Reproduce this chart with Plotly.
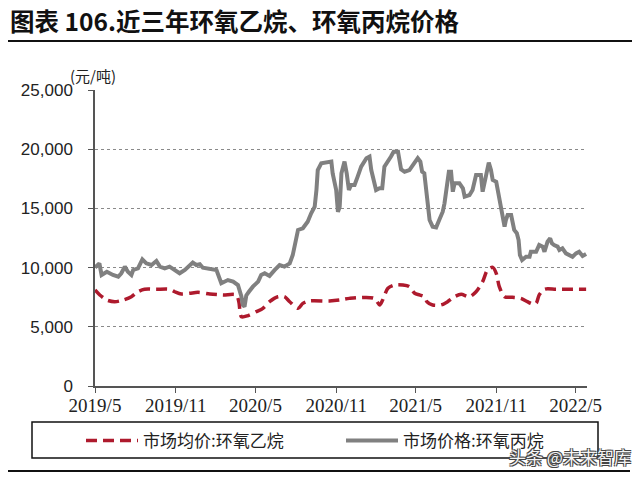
import plotly.graph_objects as go

# 市场价格:环氧丙烷 (PO) - gray
po_dates = [
    "2019-05-01", "2019-05-11", "2019-05-16", "2019-05-28", "2019-06-11", "2019-06-23", "2019-06-30",
    "2019-07-08", "2019-07-15", "2019-07-23", "2019-07-27", "2019-08-07", "2019-08-17", "2019-08-26",
    "2019-09-07", "2019-09-18", "2019-09-26", "2019-10-07", "2019-10-18", "2019-10-30", "2019-11-10",
    "2019-11-22", "2019-12-03", "2019-12-10", "2019-12-18", "2019-12-26", "2020-01-02", "2020-01-18",
    "2020-02-02", "2020-02-13", "2020-02-21", "2020-02-28", "2020-03-11", "2020-03-22", "2020-03-30",
    "2020-04-02", "2020-04-06", "2020-04-10", "2020-04-16", "2020-04-25", "2020-05-07", "2020-05-14",
    "2020-05-22", "2020-06-02", "2020-06-14", "2020-06-25", "2020-07-06", "2020-07-18", "2020-07-25",
    "2020-08-02", "2020-08-06", "2020-08-17", "2020-08-28", "2020-09-05", "2020-09-13", "2020-09-17",
    "2020-09-20", "2020-09-28", "2020-10-13", "2020-10-21", "2020-10-24", "2020-11-01", "2020-11-05",
    "2020-11-09", "2020-11-13", "2020-11-20", "2020-11-25", "2020-11-30", "2020-12-05", "2020-12-13",
    "2020-12-20", "2020-12-28", "2021-01-09", "2021-01-16", "2021-01-20", "2021-01-27", "2021-01-31",
    "2021-02-08", "2021-02-14", "2021-02-19", "2021-02-27", "2021-03-06", "2021-03-12", "2021-03-22",
    "2021-03-29", "2021-04-06", "2021-04-17", "2021-04-29", "2021-05-06", "2021-05-12", "2021-05-16",
    "2021-05-21", "2021-05-25", "2021-05-29", "2021-06-02", "2021-06-09", "2021-06-17", "2021-06-24",
    "2021-07-02", "2021-07-06", "2021-07-10", "2021-07-16", "2021-07-21", "2021-07-25", "2021-07-29",
    "2021-08-09", "2021-08-17", "2021-08-21", "2021-09-01", "2021-09-08", "2021-09-16", "2021-09-27",
    "2021-10-01", "2021-10-05", "2021-10-10", "2021-10-15", "2021-10-20", "2021-10-24", "2021-11-01",
    "2021-11-08", "2021-11-12", "2021-11-16", "2021-11-20", "2021-11-23", "2021-11-27", "2021-12-05",
    "2021-12-08", "2021-12-12", "2021-12-18", "2021-12-22", "2021-12-25", "2021-12-30", "2022-01-08",
    "2022-01-16", "2022-01-19", "2022-01-31", "2022-02-07", "2022-02-15", "2022-02-19", "2022-02-26",
    "2022-03-04", "2022-03-08", "2022-03-13", "2022-03-21", "2022-03-25", "2022-04-01", "2022-04-09",
    "2022-04-17", "2022-04-24", "2022-05-02", "2022-05-09", "2022-05-17", "2022-05-25",
]
po_values = [
    10000, 10360, 9380, 9650, 9380, 9230, 9520,
    10080, 9650, 9380, 9800, 9940, 10700, 10360,
    10220, 10560, 10080, 9940, 10080, 9800, 9520,
    9800, 10140, 10420, 10220, 10280, 9990, 9860,
    9800, 8680, 8810, 8950, 8810, 8530, 7540,
    6840, 6700, 7650, 7960, 8390, 8810, 9380,
    9520, 9300, 9800, 10220, 10080, 10360, 11060,
    12330, 13180, 13320, 13880, 14590, 15140, 16550,
    18240, 18810, 18950, 18950, 17960, 16550, 14720,
    15140, 17960, 18950, 17960, 16550, 16980, 16980,
    17680, 18530, 19240, 19380, 18240, 17250, 16550,
    16700, 16700, 18530, 18950, 19380, 19790, 19790,
    18300, 18100, 18240, 18810, 19240, 18950, 18100,
    17960, 16550, 15140, 14020, 13460, 13400, 14020,
    14720, 15430, 16700, 18100, 18100, 16410, 17120,
    17120, 16700, 15990, 16130, 16550, 17820, 17820,
    16410, 17120, 18240, 18870, 18240, 17400, 17250,
    15990, 15140, 14300, 13460, 14020, 14440, 14440,
    14020, 13180, 12900, 12330, 11060, 10640, 10920,
    10920, 11340, 11340, 11910, 11770, 11340, 12190,
    12470, 12050, 11910, 11770, 11480, 11630, 11200,
    11060, 10920, 11200, 11340, 10980, 11150,
]

# 市场均价:环氧乙烷 (EO) - red dashed
eo_dates = [
    "2019-05-01", "2019-05-12", "2019-05-28", "2019-06-15", "2019-07-04", "2019-07-23", "2019-08-07",
    "2019-08-22", "2019-09-18", "2019-10-18", "2019-10-30", "2019-11-14", "2019-12-03", "2019-12-22",
    "2020-01-18", "2020-02-17", "2020-03-18", "2020-03-24", "2020-03-30", "2020-04-14", "2020-05-03",
    "2020-05-18", "2020-06-02", "2020-06-21", "2020-07-06", "2020-07-18", "2020-08-06", "2020-08-17",
    "2020-09-01", "2020-10-17", "2020-11-09", "2020-12-01", "2021-01-27", "2021-02-08", "2021-02-15",
    "2021-02-27", "2021-03-14", "2021-04-02", "2021-04-17", "2021-04-29", "2021-05-10", "2021-05-21",
    "2021-05-27", "2021-06-09", "2021-06-28", "2021-07-13", "2021-07-29", "2021-08-13", "2021-09-01",
    "2021-09-16", "2021-10-01", "2021-10-12", "2021-10-24", "2021-11-01", "2021-11-08", "2021-11-20",
    "2021-12-08", "2021-12-27", "2022-01-11", "2022-01-23", "2022-01-31", "2022-02-07", "2022-02-19",
    "2022-03-17", "2022-04-17", "2022-05-25",
]
eo_values = [
    8110, 7690, 7260, 7120, 7260, 7540, 7960,
    8170, 8170, 8170, 7960, 7770, 7830, 7910,
    7770, 7690, 7690, 7120, 5850, 5950, 6280,
    6560, 7120, 7540, 7540, 7120, 6560, 6980,
    7180, 7180, 7260, 7400, 7400, 6840, 7260,
    8250, 8530, 8530, 8390, 7830, 7690, 7540,
    7120, 6840, 6840, 7120, 7540, 7740, 7540,
    7960, 8810, 9800, 10020, 9520, 8390, 7540,
    7490, 7400, 7120, 6930, 6980, 7690, 8170,
    8170, 8170, 8170,
]

tick_dates = ["2019-05-01", "2019-11-01", "2020-05-01", "2020-11-01", "2021-05-01", "2021-11-01", "2022-05-01"]
tick_labels = ["2019/5", "2019/11", "2020/5", "2020/11", "2021/5", "2021/11", "2022/5"]
y_ticks = [0, 5000, 10000, 15000, 20000, 25000]

RED = "#AE1A2D"
GRAY = "#808080"
CJK = "Noto Sans CJK SC"

fig = go.Figure()
fig.add_trace(go.Scatter(
    x=eo_dates, y=eo_values, mode="lines", name="市场均价:环氧乙烷", legend="legend",
    line=dict(color=RED, width=3.5, dash="11px,6px", shape="spline", smoothing=0.8),
))
fig.add_trace(go.Scatter(
    x=po_dates, y=po_values, mode="lines", name="市场价格:环氧丙烷", legend="legend2",
    line=dict(color=GRAY, width=4),
))

L, R, T, B = 95, 53, 90, 91
W, H = 640, 477
pw, ph = W - L - R, H - T - B


def px(xp):
    return (xp - L) / pw


def py(yp):
    return (H - B - yp) / ph


legend_common = dict(
    orientation="h", yanchor="middle", xanchor="left", itemwidth=52,
    font=dict(family=CJK, size=17, color="#222"),
    bgcolor="rgba(0,0,0,0)", borderwidth=0,
)

fig.update_layout(
    width=W, height=H, autosize=False,
    margin=dict(l=L, r=R, t=T, b=B, pad=0),
    paper_bgcolor="white", plot_bgcolor="white",
    showlegend=True,
    legend=dict(x=px(81), y=py(441), **legend_common),
    legend2=dict(x=px(341), y=py(441), **legend_common),
    title=dict(
        text="<b>图表 106.近三年环氧乙烷、环氧丙烷价格</b>",
        x=10 / W, xanchor="left", xref="container",
        y=1 - 22 / H, yanchor="middle", yref="container",
        font=dict(family=CJK, size=24.5, color="#111"),
    ),
    xaxis=dict(
        type="date", range=["2019-05-01", "2022-05-27"],
        tickvals=tick_dates, ticktext=tick_labels,
        showline=True, linecolor="#555", linewidth=1.5,
        ticks="outside", ticklen=5, tickcolor="#555", tickwidth=1,
        ticklabelstandoff=-4,
        showgrid=False, zeroline=False,
        tickfont=dict(family="Liberation Serif", size=19, color="#222"),
    ),
    yaxis=dict(
        range=[0, 25000], tickvals=y_ticks, tickformat=",",
        showline=True, linecolor="#555", linewidth=1.5,
        ticks="outside", ticklen=5, tickcolor="#555", tickwidth=1,
        ticklabelstandoff=12,
        showgrid=True, gridcolor="#8a8a8a", gridwidth=1, griddash="dot",
        zeroline=False,
        tickfont=dict(family="Liberation Sans", size=17, color="#222"),
    ),
    shapes=[
        dict(type="line", xref="paper", yref="paper", x0=px(8), x1=px(632), y0=py(41), y1=py(41),
             line=dict(color="#111", width=2)),
        dict(type="line", xref="paper", yref="paper", x0=px(8), x1=px(630), y0=py(471), y1=py(471),
             line=dict(color="#111", width=2)),
        dict(type="rect", xref="paper", yref="paper", x0=px(32), x1=px(598), y0=py(458), y1=py(422),
             line=dict(color="#111", width=1.5), fillcolor="rgba(0,0,0,0)"),
    ],
    annotations=[
        dict(text="(元/吨)", xref="paper", yref="paper", x=px(68), y=py(76), xanchor="left",
             yanchor="middle", showarrow=False, font=dict(family=CJK, size=15, color="#222")),
        dict(text="头条 @未来智库", xref="paper", yref="paper", x=px(570), y=py(456), xanchor="center",
             yanchor="middle", showarrow=False,
             font=dict(family=CJK, size=17, color="#f4f4f4",
                       shadow="-1px -1px 0 #444, 1px -1px 0 #444, -1px 1px 0 #444, 1px 1px 0 #444")),
    ],
)

fig.write_html("out.html")
